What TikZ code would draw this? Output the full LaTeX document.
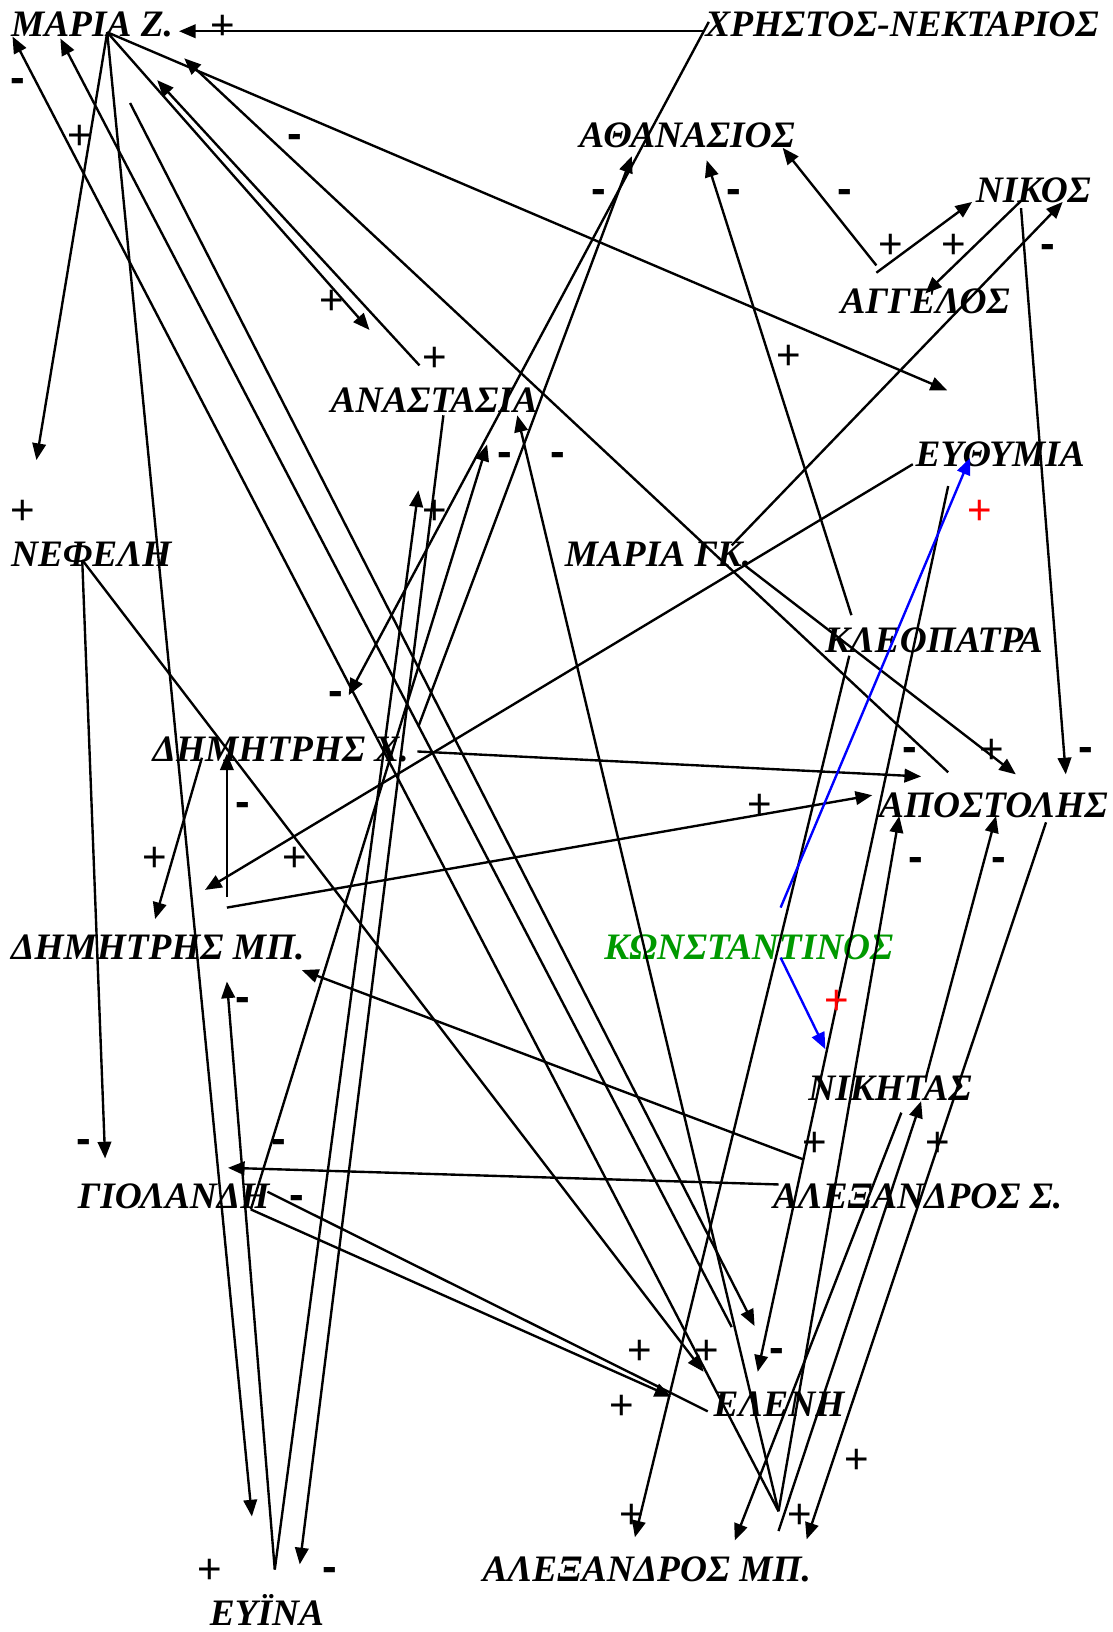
\documentclass[tikz,border=0pt]{standalone}
\usepackage{fontspec}
\setmainfont{Liberation Serif}
\newfontfamily\signfont{Liberation Sans}
\usetikzlibrary{arrows.meta}
\definecolor{konst}{RGB}{0,153,0}
\tikzset{
    person/.style={font=\bfseries\itshape\fontsize{10.2}{12}\selectfont, inner sep=0pt, anchor=base west},
    plussign/.style={font=\signfont\fontsize{11.5}{12}\selectfont, inner sep=0pt, yshift=-0.6pt},
    minussign/.style={font=\signfont\bfseries\fontsize{12}{12}\selectfont, inner sep=0pt, yshift=-1.4pt},
    tie/.style={line width=0.65pt, -{Triangle[length=1.6mm,width=1.3mm]}},
}
\begin{document}
\begin{tikzpicture}[x=0.01cm,y=-0.01cm]
        \useasboundingbox (0,0) rectangle (1069,1568);
        % persons
            \node[person] (mariaz) at (10,35) {ΜΑΡΙΑ Ζ.};
            \node[person] (christos) at (677,35) {ΧΡΗΣΤΟΣ-ΝΕΚΤΑΡΙΟΣ};
            \node[person] (athanasios) at (556,142) {ΑΘΑΝΑΣΙΟΣ};
            \node[person] (nikos) at (937,195) {ΝΙΚΟΣ};
            \node[person] (aggelos) at (807,301) {ΑΓΓΕΛΟΣ};
            \node[person] (anastasia) at (317,396) {ΑΝΑΣΤΑΣΙΑ};
            \node[person] (efthymia) at (879,448) {ΕΥΘΥΜΙΑ};
            \node[person] (nefeli) at (10,544) {ΝΕΦΕΛΗ};
            \node[person] (mariagk) at (542,544) {ΜΑΡΙΑ ΓΚ.};
            \node[person] (kleopatra) at (792,627) {ΚΛΕΟΠΑΤΡΑ};
            \node[person] (dimx) at (146,732) {ΔΗΜΗΤΡΗΣ Χ.};
            \node[person] (apostolis) at (844,785) {ΑΠΟΣΤΟΛΗΣ};
            \node[person] (dimmp) at (10,922) {ΔΗΜΗΤΡΗΣ ΜΠ.};
            \node[person, text=konst] (konst) at (580,922) {ΚΩΝΣΤΑΝΤΙΝΟΣ};
            \node[person] (nikitas) at (776,1057) {ΝΙΚΗΤΑΣ};
            \node[person] (giolandi) at (74,1161) {ΓΙΟΛΑΝΔΗ};
            \node[person] (alexs) at (742,1161) {ΑΛΕΞΑΝΔΡΟΣ Σ.};
            \node[person] (eleni) at (685,1361) {ΕΛΕΝΗ};
            \node[person] (alexmp) at (463,1519) {ΑΛΕΞΑΝΔΡΟΣ ΜΠ.};
            \node[person] (evina) at (201,1562) {ΕΥΪΝΑ};
        % ends of the ties
            \foreach \c/\x/\y in {hr1/677/30, mz1/172/30, hr2/681/21, dx1/335/668,
                mz0/103/31, nf1/35/442, ev1/242/1457, an1/355/317, ef1/910/375,
                an2/403/351, mz2/151/77, ap1/911/742, mz3/177/56,
                am0/748/1452, mz4/12/35, el1/703/1275, mz5/58/37, mz6/125/99, el2/725/1274,
                ag1/842/255, at1/752/142, ag2/842/262, nk1/934/194, nk0/981/193, ag3/889/282,
                mg1/703/524, nk2/1021/194, nk3/981/200, ap2/1024/744,
                kl1/818/591, at2/679/154, dx2/402/698, at3/607/150,
                gl1/241/1162, an3/468/427, an4/497/399, ev0/264/1508, an5/402/471,
                an6/426/399, ev2/288/1503, dm1/218/943,
                nf0/79/538, gl2/101/1113, el3/676/1318,
                dx3/194/728, dm2/149/883, dm3/218/862, dx4/218/724,
                ef2/877/446, dm4/197/855, dm5/218/872, ap3/838/764, dx5/401/722, ap4/885/746,
                mg2/714/542, ap5/976/744, ks1/750/872, ef3/932/440, ks2/750/920, nt1/793/1008,
                as1/772/1114, dm6/290/932, as2/748/1138, gl3/219/1122, el4/645/1342,
                gl5/257/1145, el5/680/1356, ef4/911/467, el6/728/1318,
                kl2/816/630, am1/610/1477, nt2/866/1069, am2/706/1480,
                am3/748/1471, nt3/885/1058, ap6/864/784, nt4/890/1034, ap7/957/784,
                ap8/1005/790, am4/775/1479}{
                \coordinate (\c) at (\x,\y);
            }
        % ties
            \foreach \a/\b in {hr1/mz1, hr2/dx1, mz0/nf1, mz0/ev1, mz0/an1, mz0/ef1,
                an2/mz2, ap1/mz3, am0/mz4, el1/mz5, mz6/el2, ag1/at1, ag2/nk1, nk0/ag3,
                mg1/nk2, nk3/ap2, kl1/at2, dx2/at3, gl1/an3, am0/an4, ev0/an5, an6/ev2,
                ev0/dm1, nf0/gl2, nf0/el3, dx3/dm2, dm3/dx4, ef2/dm4, dm5/ap3, dx5/ap4,
                mg2/ap5, as1/dm6, as2/gl3, gl1/el4, ef4/el6, kl2/am1, nt2/am2, am3/nt3,
                am0/ap6, nt4/ap7, ap8/am4}{
                \draw[tie] (\a) -- (\b);
            }
            \draw[line width=0.65pt] (gl5) -- (el5);
            \draw[tie, blue] (ks1) -- (ef3);
            \draw[tie, blue] (ks2) -- (nt1);
        % signs
            \foreach \x/\y [count=\i] in {214/24, 77/130, 319/288, 418/343, 856/235, 916/235,
                758/341, 418/490, 22/490, 953/720, 730/773, 149/824, 283/824, 783/1097,
                901/1097, 615/1297, 679/1297, 597/1350, 823/1402, 607/1455, 768/1455, 202/1508}{
                \node[plussign] (p\i) at (\x,\y) {+};
            }
            \node[plussign, red] (r1) at (941,490) {+};
            \node[plussign, red] (r2) at (804,961) {+};
            \foreach \x/\y [count=\i] in {17/77, 283/131, 575/184, 705/184, 812/184, 1007/237,
                485/437, 536/437, 323/666, 874/720, 1043/720, 233/773, 880/826, 960/826,
                233/960, 81/1097, 268/1097, 285/1150, 746/1297, 317/1508}{
                \node[minussign] (m\i) at (\x,\y) {-};
            }
\end{tikzpicture}
\end{document}
